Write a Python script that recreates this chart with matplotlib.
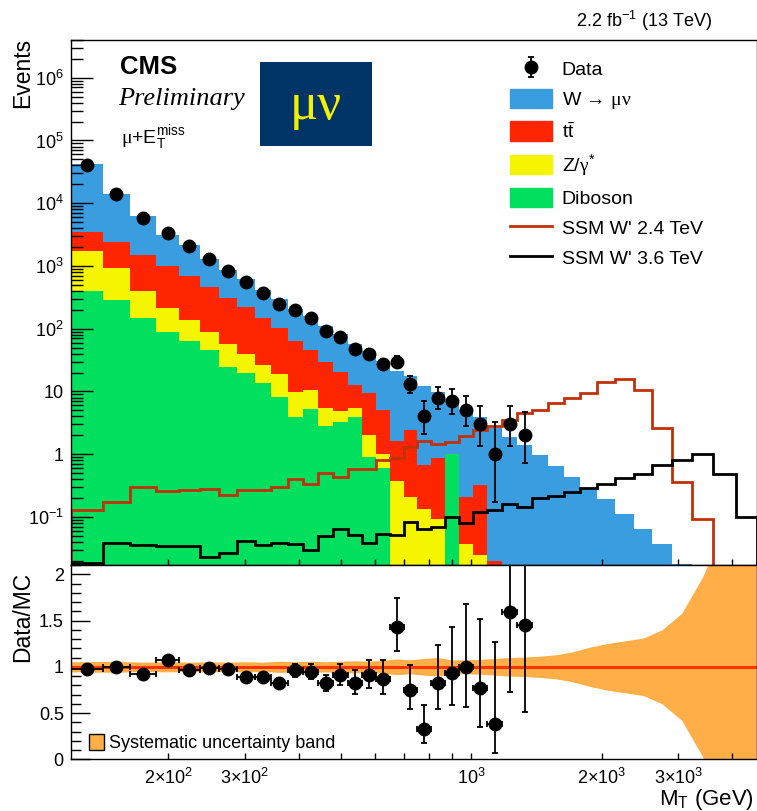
import numpy as np
import matplotlib
matplotlib.use('Agg')
import matplotlib.pyplot as plt
from matplotlib.patches import Patch, Rectangle
from matplotlib.lines import Line2D
from matplotlib.ticker import FixedLocator, NullFormatter

plt.rcParams['font.family'] = ['Liberation Sans', 'DejaVu Sans']
plt.rcParams['mathtext.fontset'] = 'custom'
plt.rcParams['mathtext.rm'] = 'Liberation Sans'
plt.rcParams['mathtext.it'] = 'Liberation Sans:italic'
plt.rcParams['mathtext.bf'] = 'Liberation Sans:bold'
plt.rcParams['mathtext.sf'] = 'Liberation Serif'

# binning in transverse mass (GeV)
mt_edges = [119, 141, 163, 187, 212, 236, 262, 288, 316, 345, 377, 409, 443, 480,
            518, 558, 601, 648, 698, 750, 806, 868, 936, 1008, 1089, 1179, 1274,
            1383, 1503, 1633, 1784, 1954, 2150, 2369, 2617, 2899, 3229, 3611,
            4071, 4551]

# observed events per bin
data_counts = [40700, 13900, 5740, 3390, 2080, 1270, 839, 561, 366, 247, 198, 149,
               92, 74, 47, 40, 27, 30, 13, 4, 8, 7, 5, 3, 1, 3, 2]

# background expectations per bin
diboson = [400, 285, 146, 88, 63, 45, 24.5, 20, 13.4, 8.2, 3.9, 5.2, 2.8, 3.2, 3.9,
           0.9, 0.6, 0, 0, 0, 0, 1.0, 0, 0, 0, 0, 0, 0, 0, 0, 0, 0, 0, 0, 0, 0,
           0, 0, 0]
zgamma = [1330, 628, 252, 125, 77, 44, 33.5, 19.5, 12.9, 10.7, 6.0, 5.3, 2.7, 1.7,
          1.45, 1.1, 0.4, 0.37, 0.21, 0.136, 0.094, 0.02, 0.037, 0.025, 0, 0, 0,
          0, 0, 0, 0, 0, 0, 0, 0, 0, 0, 0, 0]
ttbar = [1770, 1517, 1092, 787, 550, 377, 246, 178.5, 119.7, 82.1, 53.1, 35.1, 24.5,
         15.6, 7.25, 7.3, 4.0, 1.23, 2.19, 0.534, 0.766, 0, 0.173, 0.295, 0.02, 0,
         0, 0, 0, 0, 0, 0, 0, 0, 0, 0, 0, 0, 0]
wmunu = [38300, 11530, 4720, 2165, 1470, 819, 560, 409, 266, 198, 143, 111.4, 82,
         60.5, 44.4, 34.7, 26, 19.4, 15, 11.53, 8.84, 6.48, 4.79, 3.58, 2.58, 1.88,
         1.38, 0.96, 0.64, 0.425, 0.294, 0.19, 0.11, 0.065, 0.0375, 0.018, 0, 0, 0]

# signal expectations
ssm_24 = [0.131, 0.174, 0.30, 0.26, 0.273, 0.279, 0.222, 0.266, 0.266, 0.30, 0.395,
          0.34, 0.50, 0.44, 0.59, 0.57, 0.80, 0.86, 1.28, 1.65, 1.46, 1.54, 1.97,
          2.44, 2.83, 3.55, 4.45, 5.03, 6.43, 7.9, 9.4, 14.0, 15.5, 10.5, 2.57,
          0.36, 0.091, 0, 0]
ssm_36 = [0.0185, 0.0384, 0.0354, 0.0344, 0.0344, 0.0233, 0.027, 0.041, 0.0354,
          0.039, 0.0366, 0.0294, 0.049, 0.063, 0.052, 0.039, 0.054, 0.051, 0.083,
          0.065, 0.069, 0.10, 0.08, 0.12, 0.127, 0.163, 0.142, 0.20, 0.214, 0.247,
          0.294, 0.33, 0.42, 0.49, 0.66, 0.80, 1.0, 0.49, 0.10]

# relative systematic uncertainty on the total background
rel_syst = [0.055, 0.06, 0.05, 0.055, 0.05, 0.055, 0.05, 0.055, 0.05, 0.06, 0.055,
            0.06, 0.055, 0.06, 0.065, 0.06, 0.07, 0.085, 0.075, 0.09, 0.10, 0.075,
            0.075, 0.08, 0.09, 0.10, 0.105, 0.115, 0.13, 0.16, 0.21, 0.25, 0.28,
            0.31, 0.40, 0.58, 0.97, 1.5, 2.0]

c_w = '#3a9de0'
c_tt = '#ff2500'
c_z = '#f5f500'
c_vv = '#00e05e'
c_s24 = '#c2300a'
c_band = '#ffae48'


def garwood(n):
    # 68% Poisson interval, Wilson-Hilferty approximation of chi2 quantiles
    n = np.asarray(n, float)
    def chi2_q(k, z):
        return k * (1 - 2 / (9 * k) + z * np.sqrt(2 / (9 * k))) ** 3
    lo = np.where(n > 0, 0.5 * chi2_q(np.maximum(2 * n, 1e-9), -1.0), 0.0)
    hi = 0.5 * chi2_q(2 * n + 2, 1.0)
    return n - lo, hi - n


edges = np.array(mt_edges, float)
centers = np.sqrt(edges[:-1] * edges[1:])
nd = len(data_counts)
data = np.array(data_counts, float)

cum_vv = np.array(diboson)
cum_z = cum_vv + np.array(zgamma)
cum_tt = cum_z + np.array(ttbar)
total = cum_tt + np.array(wmunu)

fig = plt.figure(figsize=(7.57, 8.11), dpi=100)
ax = fig.add_axes([0.0934, 0.3033, 0.9060, 0.6474])
rax = fig.add_axes([0.0934, 0.0637, 0.9060, 0.2396], sharex=ax)

# stacked backgrounds
base = 1e-6
ax.stairs(total, edges, baseline=base, fill=True, color=c_w)
ax.stairs(cum_tt, edges, baseline=base, fill=True, color=c_tt)
ax.stairs(cum_z, edges, baseline=base, fill=True, color=c_z)
ax.stairs(cum_vv, edges, baseline=base, fill=True, color=c_vv)

# signals
ax.stairs(ssm_24, edges, baseline=base, color=c_s24, lw=2.0)
ax.stairs(ssm_36, edges, baseline=base, color='black', lw=2.0)

# data
dlo, dhi = garwood(data)
dat = ax.errorbar(centers[:nd], data, yerr=[dlo, dhi], fmt='o', color='black',
                  ms=9, elinewidth=1.3, capsize=2.5, capthick=1.3)

ax.set_xscale('log')
ax.set_yscale('log')
ax.set_xlim(edges[0], edges[-1])
ax.set_ylim(0.0171, 4.0e6)

ax.yaxis.set_major_locator(FixedLocator([0.1, 1, 10, 1e2, 1e3, 1e4, 1e5, 1e6]))
ax.set_yticklabels([r'$10^{-1}$', '1', '10', r'$10^{2}$', r'$10^{3}$', r'$10^{4}$',
                    r'$10^{5}$', r'$10^{6}$'], fontsize=13)
minors = [m * 10.0 ** p for p in range(-2, 7) for m in range(2, 10)]
ax.yaxis.set_minor_locator(FixedLocator(minors))
ax.yaxis.set_minor_formatter(NullFormatter())
ax.tick_params(axis='y', which='major', direction='in', length=16, width=1, pad=5)
ax.tick_params(axis='y', which='minor', direction='in', length=8.5, width=1)
ax.tick_params(axis='x', which='both', direction='in', length=4.5, width=1,
               labelbottom=False)

ax.xaxis.set_major_locator(FixedLocator([200, 300, 1000, 2000, 3000]))
ax.xaxis.set_minor_locator(FixedLocator([400, 500, 600, 700, 800, 900, 4000]))
ax.xaxis.set_minor_formatter(NullFormatter())

for a in (ax, rax):
    for s in a.spines.values():
        s.set_linewidth(1.0)

handles = [dat,
           Patch(color=c_w), Patch(color=c_tt), Patch(color=c_z), Patch(color=c_vv),
           Line2D([], [], color=c_s24, lw=2), Line2D([], [], color='black', lw=2)]
labels = ['Data', 'W → $\\mathsf{\\mu\\nu}$', r't$\bar{\mathrm{t}}$',
          r'Z/$\mathsf{\gamma}^{*}$', 'Diboson', "SSM W' 2.4 TeV", "SSM W' 3.6 TeV"]
ax.legend(handles, labels, loc='upper left', bbox_to_anchor=(510 / 757, 1 - 59 / 811),
          bbox_transform=fig.transFigure, frameon=False, fontsize=14,
          handlelength=2.16, handleheight=1.13, handletextpad=0.5,
          labelspacing=0.52, borderpad=0, borderaxespad=0)

# ratio panel
ratio = data / total[:nd]
rlo, rhi = dlo / total[:nd], dhi / total[:nd]
band_x = np.concatenate([[edges[0]], centers, [edges[-1]]])
rs = np.array(rel_syst)
band_r = np.concatenate([[rs[0]], rs, [rs[-1]]])
rax.fill_between(band_x, 1 - band_r, 1 + band_r, color=c_band, lw=0)
rax.axhline(1.0, color='#ff3300', lw=2.2)
xl = centers[:nd] - edges[:nd]
xh = edges[1:nd + 1] - centers[:nd]
rax.errorbar(centers[:nd], ratio, xerr=[xl, xh], yerr=[rlo, rhi], fmt='o',
             color='black', ms=9, elinewidth=1.3, capsize=2.5, capthick=1.3)

rax.set_ylim(0, 2.1)
rax.yaxis.set_major_locator(FixedLocator([0, 0.5, 1, 1.5, 2]))
rax.set_yticklabels(['0', '0.5', '1', '1.5', '2'], fontsize=13)
rax.yaxis.set_minor_locator(FixedLocator(np.arange(0, 2.11, 0.1)))
rax.tick_params(axis='y', which='major', direction='in', length=14, width=1, pad=5)
rax.tick_params(axis='y', which='minor', direction='in', length=7, width=1)
rax.tick_params(axis='x', which='both', direction='in', length=4.5, width=1,
                labelbottom=True, pad=6)
rax.set_xticklabels([r'$2{\times}10^{2}$', r'$3{\times}10^{2}$', r'$10^{3}$',
                     r'$2{\times}10^{3}$', r'$3{\times}10^{3}$'], fontsize=13)

band_handle = Patch(facecolor=c_band, edgecolor='black', lw=1)
rax.legend([band_handle], ['Systematic uncertainty band'], loc='lower left',
           bbox_to_anchor=(89 / 757, 1 - 752 / 811), bbox_transform=fig.transFigure,
           frameon=False, fontsize=13, handlelength=0.85, handleheight=0.95,
           handletextpad=0.25, borderpad=0, borderaxespad=0)

# texts
fig.text(23 / 757, 1 - 38 / 811, 'Events', rotation=90, ha='center', va='top', fontsize=16.5)
fig.text(23 / 757, 1 - 572 / 811, 'Data/MC', rotation=90, ha='center', va='top', fontsize=16.5)
fig.text(754 / 757, 1 - 805 / 811, r'M$_{\mathrm{T}}$ (GeV)', ha='right', va='baseline',
         fontsize=16)
fig.text(712 / 757, 1 - 27 / 811, r'2.2 fb$^{-1}$ (13 TeV)', ha='right', va='baseline', fontsize=13)
fig.text(120 / 757, 1 - 74 / 811, 'CMS', fontweight='bold', fontsize=18.5, va='baseline')
fig.text(118 / 757, 1 - 105 / 811, 'Preliminary', family='Liberation Serif',
         style='italic', fontsize=19, va='baseline')
fig.text(121 / 757, 1 - 143 / 811, r'$\mathsf{\mu}$+E$_{\mathrm{T}}^{\mathrm{miss}}$',
         fontsize=14, va='baseline')

fig.patches.append(Rectangle((260 / 757, 1 - 146 / 811), 112 / 757, 84 / 811,
                             transform=fig.transFigure, facecolor='#003366',
                             edgecolor='none', zorder=5))
fig.text(316 / 757, 1 - 106 / 811, 'μν', family='Liberation Serif', color='#f5f000',
         fontsize=38, ha='center', va='center', zorder=6)

fig.savefig('out.png', dpi=100)
